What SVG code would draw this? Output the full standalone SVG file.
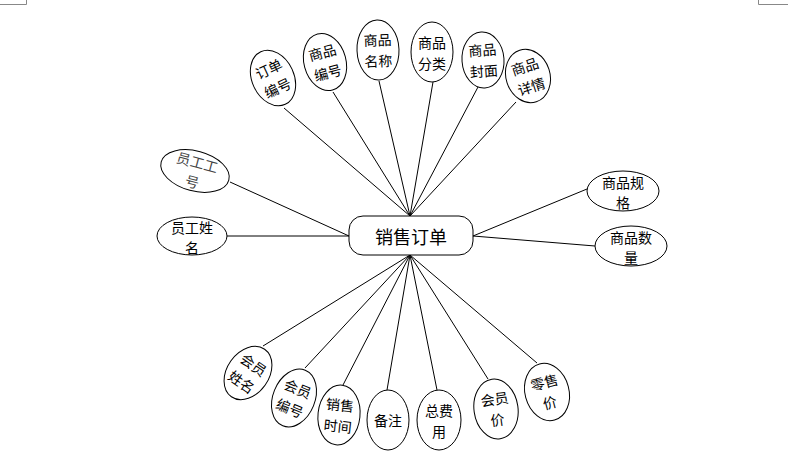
<svg xmlns="http://www.w3.org/2000/svg" width="809" height="470" viewBox="0 0 809 470">
<style>
.e{fill:#fff;stroke:#000;stroke-width:1}
.t{font-family:"Noto Sans CJK SC","Noto Sans",sans-serif;font-size:14px;fill:#000;text-anchor:middle;dominant-baseline:central}
.c line{stroke:#000;stroke-width:1}
.m{stroke:#888;stroke-width:1;fill:none}
</style>
<rect width="809" height="470" fill="#fff"/>
<path class="m" d="M0 4.5H26.5V0M758.5 0V4.5H788"/>
<g class="c">
<line x1="284" y1="108" x2="410" y2="216"/>
<line x1="333" y1="92" x2="410" y2="216"/>
<line x1="379" y1="81" x2="410" y2="216"/>
<line x1="433" y1="82" x2="410" y2="216"/>
<line x1="478" y1="87" x2="410" y2="216"/>
<line x1="516" y1="102" x2="410" y2="216"/>
<line x1="230" y1="182" x2="349" y2="236"/>
<line x1="227" y1="236" x2="349" y2="236"/>
<line x1="587" y1="189" x2="473" y2="236"/>
<line x1="595" y1="246" x2="473" y2="236"/>
<line x1="263" y1="346" x2="410" y2="255"/>
<line x1="305" y1="368" x2="410" y2="255"/>
<line x1="343" y1="385" x2="410" y2="255"/>
<line x1="387" y1="390" x2="410" y2="255"/>
<line x1="437" y1="390" x2="410" y2="255"/>
<line x1="488" y1="379" x2="410" y2="255"/>
<line x1="537" y1="363" x2="410" y2="255"/>
</g>
<g id="main"><rect x="349" y="216" width="124" height="39" rx="14" class="e"/><text x="411" y="236" class="t" style="font-size:18px">销售订单</text></g>
<g id="n1" transform="translate(273,78) rotate(-25)"><ellipse rx="21" ry="29" class="e"/><text class="t" y="-10.5">订单</text><text class="t" y="10.5">编号</text></g>
<g id="n2" transform="translate(325,62) rotate(-15)"><ellipse rx="21" ry="29" class="e"/><text class="t" y="-10.5">商品</text><text class="t" y="10.5">编号</text></g>
<g id="n3" transform="translate(378,50) rotate(-2)"><ellipse rx="21" ry="30" class="e"/><text class="t" y="-10.5">商品</text><text class="t" y="10.5">名称</text></g>
<g id="n4" transform="translate(432,52)"><ellipse rx="21" ry="30" class="e"/><text class="t" y="-10.5">商品</text><text class="t" y="10.5">分类</text></g>
<g id="n5" transform="translate(483,60) rotate(-4)"><ellipse rx="21" ry="28" class="e"/><text class="t" y="-10.5">商品</text><text class="t" y="10.5">封面</text></g>
<g id="n6" transform="translate(528,76) rotate(-18)"><ellipse rx="22" ry="27" class="e"/><text class="t" y="-10.5">商品</text><text class="t" y="10.5">详情</text></g>
<g id="n7" transform="translate(195,171) rotate(15)"><ellipse rx="35" ry="20" class="e"/><text class="t" y="-9.5" style="fill:#444">员工工</text><text class="t" y="10.5" style="fill:#444">号</text></g>
<g id="n8" transform="translate(192,236)"><ellipse rx="35" ry="19" class="e"/><text class="t" y="-9.5">员工姓</text><text class="t" y="10.5">名</text></g>
<g id="n9" transform="translate(623,191)"><ellipse rx="36" ry="20" class="e"/><text class="t" y="-9.5">商品规</text><text class="t" y="10.5">格</text></g>
<g id="n10" transform="translate(631,246)"><ellipse rx="36" ry="20" class="e"/><text class="t" y="-9.5">商品数</text><text class="t" y="10.5">量</text></g>
<g id="n11" transform="translate(248,373) rotate(35)"><ellipse rx="21" ry="29" class="e"/><text class="t" y="-10.5">会员</text><text class="t" y="10.5">姓名</text></g>
<g id="n12" transform="translate(294,398) rotate(22)"><ellipse rx="21" ry="30" class="e"/><text class="t" y="-10.5">会员</text><text class="t" y="10.5">编号</text></g>
<g id="n13" transform="translate(339,415) rotate(6)"><ellipse rx="21" ry="30" class="e"/><text class="t" y="-10.5">销售</text><text class="t" y="10.5">时间</text></g>
<g id="n14" transform="translate(388,420)"><ellipse rx="21" ry="30" class="e"/><text class="t">备注</text></g>
<g id="n15" transform="translate(439,420)"><ellipse rx="22" ry="30" class="e"/><text class="t" y="-10.5">总费</text><text class="t" y="10.5">用</text></g>
<g id="n16" transform="translate(496,409) rotate(-8)"><ellipse rx="22" ry="30" class="e"/><text class="t" y="-10.5">会员</text><text class="t" y="10.5">价</text></g>
<g id="n17" transform="translate(547,392) rotate(-15)"><ellipse rx="22" ry="29" class="e"/><text class="t" y="-10.5">零售</text><text class="t" y="10.5">价</text></g>
</svg>
